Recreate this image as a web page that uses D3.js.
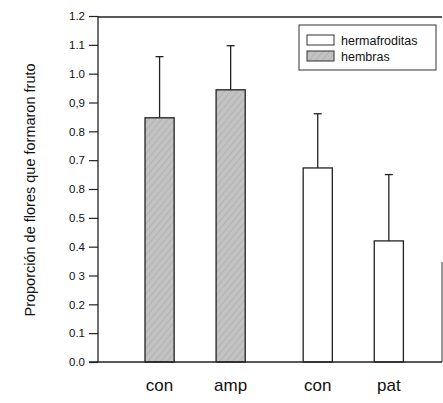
<html>
<head>
<style>
  body { margin: 0; background: #fff; }
  text { font-family: "Liberation Sans", Arial, sans-serif; fill: #111; }
</style>
</head>
<body>
<svg id="svg" width="443" height="403"></svg>
<script src="https://d3js.org/d3.v7.min.js"></script>
<script>
    // data
    const categories = ["con", "amp", "con", "pat"];
    const groups = ["hembras", "hembras", "hermafroditas", "hermafroditas"];
    const means = [0.847, 0.944, 0.673, 0.42];
    const errors = [0.212, 0.153, 0.188, 0.23];
    const tickValues = [0, 0.1, 0.2, 0.3, 0.4, 0.5, 0.6, 0.7, 0.8, 0.9, 1.0, 1.1, 1.2];
    const tickLabels = ["0.0", "0.1", "0.2", "0 3", "0.4", "0.5", "0.8", "0.7", "0.8", "0,9", "1.0", "1.1", "1.2"];
    const legendItems = ["hermafroditas", "hembras"];

    const svg = d3.select("#svg");
    const mLeft = 98, mRight = 442, mTop = 16, mBottom = 362;

    // textured gray fill for "hembras"
    const pat = svg.append("defs").append("pattern")
        .attr("id", "hatch")
        .attr("patternUnits", "userSpaceOnUse")
        .attr("width", 5).attr("height", 5)
        .attr("patternTransform", "rotate(40)");
    pat.append("rect").attr("width", 5).attr("height", 5).attr("fill", "#c2c2c2");
    pat.append("line").attr("x1", 0).attr("y1", 0).attr("x2", 0).attr("y2", 5)
        .attr("stroke", "#a4a4a4").attr("stroke-width", 1);

    const y = d3.scaleLinear().domain([0, 1.2]).range([mBottom, mTop]);
    const x = d3.scaleBand().domain(d3.range(categories.length))
        .range([137.9, 394.5]).paddingInner(0.59).paddingOuter(0.1);
    // the two groups sit a little further apart
    const groupGap = 16;
    const xpos = function(i) { return x(i) + (groups[i] === "hembras" ? 0 : groupGap); };

    const fillFor = function(g) { return g === "hembras" ? "url(#hatch)" : "#fff"; };

    // frame
    svg.append("line").attr("x1", mLeft).attr("x2", mRight).attr("y1", mTop + 1).attr("y2", mTop + 1)
        .attr("stroke", "#222").attr("stroke-width", 1.3);
    svg.append("line").attr("x1", mRight).attr("x2", mRight).attr("y1", 262).attr("y2", mBottom)
        .attr("stroke", "#555").attr("stroke-width", 1.2);

    // error bars
    const eb = svg.append("g");
    means.forEach(function(m, i) {
        const cx = xpos(i) + x.bandwidth() / 2;
        eb.append("line").attr("x1", cx).attr("x2", cx)
            .attr("y1", y(m)).attr("y2", y(m + errors[i]))
            .attr("stroke", "#222").attr("stroke-width", 1.3);
        eb.append("line").attr("x1", cx - 4).attr("x2", cx + 4)
            .attr("y1", y(m + errors[i])).attr("y2", y(m + errors[i]))
            .attr("stroke", "#222").attr("stroke-width", 1.3);
    });

    // bars
    svg.append("g").selectAll("rect")
        .data(means)
        .enter().append("rect")
        .attr("x", function(d, i) { return xpos(i); })
        .attr("y", function(d) { return y(d); })
        .attr("width", x.bandwidth())
        .attr("height", function(d) { return y(0) - y(d); })
        .attr("fill", function(d, i) { return fillFor(groups[i]); })
        .attr("stroke", "#222")
        .attr("stroke-width", 1.3);

    // y axis
    const yAxis = d3.axisLeft(y)
        .tickValues(tickValues)
        .tickFormat(function(d, i) { return tickLabels[i]; })
        .tickSize(9)
        .tickPadding(4);
    const ga = svg.append("g").attr("transform", "translate(" + mLeft + ",0)").call(yAxis);
    ga.select(".domain").attr("stroke", "#222").attr("stroke-width", 1.3).attr("d", "M0," + mTop + "V" + mBottom);
    ga.selectAll(".tick line").attr("stroke", "#222").attr("stroke-width", 1.2);
    ga.selectAll(".tick text").style("font-size", "11.5px").style("font-family", "Liberation Sans, Arial, sans-serif").attr("fill", "#111");

    // x baseline
    svg.append("line").attr("x1", mLeft - 9).attr("x2", mRight).attr("y1", mBottom).attr("y2", mBottom)
        .attr("stroke", "#222").attr("stroke-width", 1.3);

    // category labels
    svg.append("g").selectAll("text")
        .data(categories)
        .enter().append("text")
        .attr("x", function(d, i) { return xpos(i) + x.bandwidth() / 2; })
        .attr("y", 391)
        .attr("text-anchor", "middle")
        .style("font-size", "17px")
        .text(function(d) { return d; });

    // y title
    svg.append("text")
        .attr("transform", "translate(35,190)rotate(-90)")
        .attr("text-anchor", "middle")
        .style("font-size", "14.5px")
        .text("Proporción de flores que formaron fruto");

    // legend
    const lg = svg.append("g");
    lg.append("rect").attr("x", 299).attr("y", 25).attr("width", 137).attr("height", 45)
        .attr("fill", "#fff").attr("stroke", "#333").attr("stroke-width", 1);
    legendItems.forEach(function(name, i) {
        lg.append("rect").attr("x", 307).attr("y", 35 + i * 16).attr("width", 27).attr("height", 10)
            .attr("fill", fillFor(name)).attr("stroke", "#333").attr("stroke-width", 1);
        lg.append("text").attr("x", 341).attr("y", 45 + i * 16)
            .style("font-size", "12.5px").text(name);
    });
</script>
</body>
</html>
